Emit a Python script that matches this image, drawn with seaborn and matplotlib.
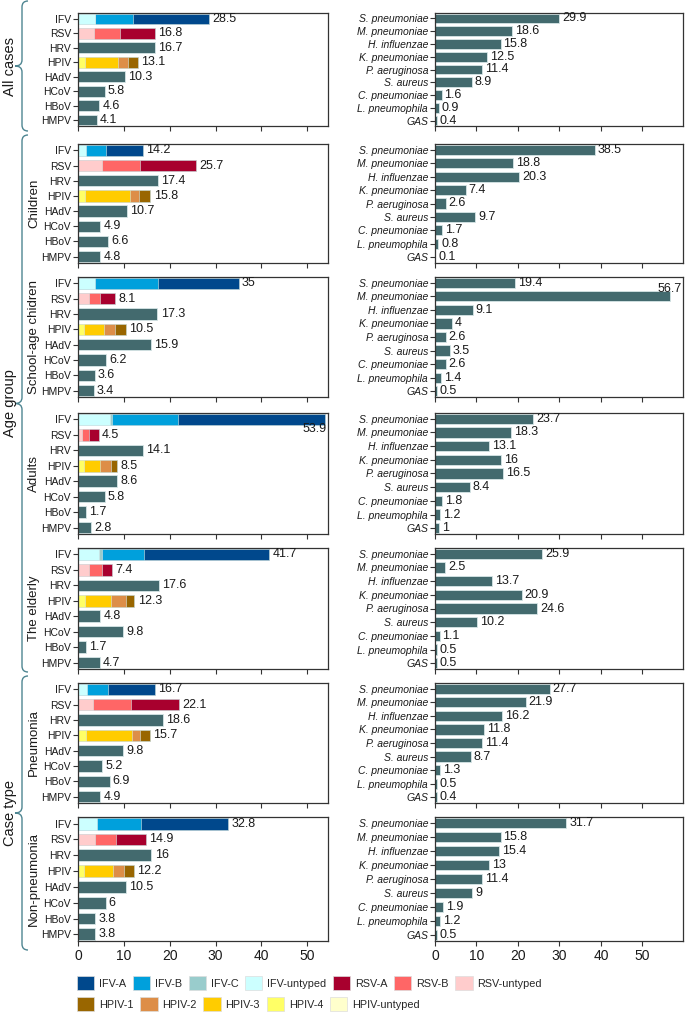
import numpy as np
import pandas as pd
import matplotlib
matplotlib.use("Agg")
import matplotlib.pyplot as plt
import seaborn as sns
from matplotlib.path import Path
from matplotlib.patches import PathPatch, Patch

# ---------------- data ----------------
groups = ["All cases", "Children", "School-age chidren", "Adults",
          "The elderly", "Pneumonia", "Non-pneumonia"]
viruses = ["IFV", "RSV", "HRV", "HPIV", "HAdV", "HCoV", "HBoV", "HMPV"]
bacteria = ["S. pneumoniae", "M. pneumoniae", "H. influenzae", "K. pneumoniae",
            "P. aeruginosa", "S. aureus", "C. pneumoniae", "L. pneumophila", "GAS"]

# virus totals per group (order of `viruses`)
virus_all      = [28.5, 16.8, 16.7, 13.1, 10.3, 5.8, 4.6, 4.1]
virus_children = [14.2, 25.7, 17.4, 15.8, 10.7, 4.9, 6.6, 4.8]
virus_school   = [35.0, 8.1, 17.3, 10.5, 15.9, 6.2, 3.6, 3.4]
virus_adults   = [53.9, 4.5, 14.1, 8.5, 8.6, 5.8, 1.7, 2.8]
virus_elderly  = [41.7, 7.4, 17.6, 12.3, 4.8, 9.8, 1.7, 4.7]
virus_pneu     = [16.7, 22.1, 18.6, 15.7, 9.8, 5.2, 6.9, 4.9]
virus_nonpneu  = [32.8, 14.9, 16.0, 12.2, 10.5, 6.0, 3.8, 3.8]

# IFV subtypes: untyped, C, B, A
ifv_subtypes = ["IFV-untyped", "IFV-C", "IFV-B", "IFV-A"]
ifv_all      = [3.6, 0.1, 8.2, 16.6]
ifv_children = [1.7, 0.0, 4.4, 8.1]
ifv_school   = [3.8, 0.0, 13.7, 17.5]
ifv_adults   = [7.0, 0.5, 14.2, 32.2]
ifv_elderly  = [4.6, 0.6, 9.1, 27.4]
ifv_pneu     = [2.0, 0.0, 4.5, 10.2]
ifv_nonpneu  = [4.1, 0.0, 9.7, 19.0]

# RSV subtypes: untyped, B, A
rsv_subtypes = ["RSV-untyped", "RSV-B", "RSV-A"]
rsv_all      = [3.5, 5.6, 7.7]
rsv_children = [5.3, 8.3, 12.1]
rsv_school   = [2.5, 2.2, 3.4]
rsv_adults   = [0.9, 1.6, 2.0]
rsv_elderly  = [2.5, 2.7, 2.2]
rsv_pneu     = [3.3, 8.2, 10.6]
rsv_nonpneu  = [3.8, 4.5, 6.6]

# HPIV subtypes: untyped, 4, 3, 2, 1
hpiv_subtypes = ["HPIV-untyped", "HPIV-4", "HPIV-3", "HPIV-2", "HPIV-1"]
hpiv_all      = [0.1, 1.4, 7.3, 2.2, 2.1]
hpiv_children = [0.0, 1.5, 9.8, 2.0, 2.5]
hpiv_school   = [0.0, 1.2, 4.5, 2.3, 2.5]
hpiv_adults   = [0.0, 1.3, 3.6, 2.3, 1.3]
hpiv_elderly  = [0.0, 1.6, 5.6, 3.2, 1.9]
hpiv_pneu     = [0.0, 1.7, 10.0, 1.8, 2.2]
hpiv_nonpneu  = [0.0, 1.4, 6.3, 2.3, 2.2]

bact_all      = [29.9, 18.6, 15.8, 12.5, 11.4, 8.9, 1.6, 0.9, 0.4]
bact_children = [38.5, 18.8, 20.3, 7.4, 2.6, 9.7, 1.7, 0.8, 0.1]
bact_school   = [19.4, 56.7, 9.1, 4.0, 2.6, 3.5, 2.6, 1.4, 0.5]
bact_adults   = [23.7, 18.3, 13.1, 16.0, 16.5, 8.4, 1.8, 1.2, 1.0]
bact_elderly  = [25.9, 2.5, 13.7, 20.9, 24.6, 10.2, 1.1, 0.5, 0.5]
bact_pneu     = [27.7, 21.9, 16.2, 11.8, 11.4, 8.7, 1.3, 0.5, 0.4]
bact_nonpneu  = [31.7, 15.8, 15.4, 13.0, 11.4, 9.0, 1.9, 1.2, 0.5]

virus_data = [virus_all, virus_children, virus_school, virus_adults,
              virus_elderly, virus_pneu, virus_nonpneu]
ifv_data = [ifv_all, ifv_children, ifv_school, ifv_adults, ifv_elderly, ifv_pneu, ifv_nonpneu]
rsv_data = [rsv_all, rsv_children, rsv_school, rsv_adults, rsv_elderly, rsv_pneu, rsv_nonpneu]
hpiv_data = [hpiv_all, hpiv_children, hpiv_school, hpiv_adults, hpiv_elderly, hpiv_pneu, hpiv_nonpneu]
bact_data = [bact_all, bact_children, bact_school, bact_adults, bact_elderly, bact_pneu, bact_nonpneu]

subtype_colors = {
    "IFV-A": "#00488C", "IFV-B": "#00A0DC", "IFV-C": "#99CCCC", "IFV-untyped": "#CCFFFF",
    "RSV-A": "#A8002E", "RSV-B": "#FF6666", "RSV-untyped": "#FFCCCC",
    "HPIV-1": "#996600", "HPIV-2": "#DD8E48", "HPIV-3": "#FFCC00",
    "HPIV-4": "#FFFF66", "HPIV-untyped": "#FFFFCC",
}
legend_row1 = ["IFV-A", "IFV-B", "IFV-C", "IFV-untyped", "RSV-A", "RSV-B", "RSV-untyped"]
legend_row2 = ["HPIV-1", "HPIV-2", "HPIV-3", "HPIV-4", "HPIV-untyped"]

BAR = "#436A6E"
EDGE = "#D6E6E6"

# ---------------- style ----------------
sns.set_style("white")
plt.rcParams["font.family"] = ["Liberation Sans", "DejaVu Sans"]
plt.rcParams["axes.edgecolor"] = "#333333"
plt.rcParams["axes.linewidth"] = 0.9

W, H = 685, 1015
fig = plt.figure(figsize=(W / 100, H / 100), dpi=100)

tops = [13, 144, 277, 413, 548, 683, 817]
bots = [126, 263, 397, 534, 669, 803, 941]
LX0, LX1 = 78, 328
RX0, RX1 = 435, 683


def add_ax(x0, x1, t, b):
    return fig.add_axes([x0 / W, 1 - b / H, (x1 - x0) / W, (b - t) / H])


def style_ax(ax, last, xmax):
    ax.set_xlim(0, xmax)
    ax.set_xticks([0, 10, 20, 30, 40, 50])
    ax.set_xlabel("")
    ax.set_ylabel("")
    ax.tick_params(axis="both", which="both", length=3.5, width=0.8, color="#333333",
                   direction="out", bottom=True, left=True, pad=1.5)
    ax.tick_params(axis="y", labelsize=7.5, labelcolor="#1a1a1a")
    ax.tick_params(axis="x", labelsize=10, labelcolor="#1a1a1a", pad=2)
    if not last:
        ax.set_xticklabels([])
    for s in ax.spines.values():
        s.set_visible(True)
        s.set_color("#333333")
        s.set_linewidth(0.9)


def add_labels(ax, cats, vals, xmax, above_when_big):
    for i, v in enumerate(vals):
        lab = f"{v:g}"
        if v + 6 > xmax:
            dy = -0.55 if above_when_big else 0.6
            ax.text(xmax - 0.4, i + dy, lab, ha="right", va="center",
                    fontsize=9, color="#1a1a1a")
        else:
            ax.text(v + 0.7, i, lab, ha="left", va="center", fontsize=9, color="#1a1a1a")


LXMAX = 54.5
RXMAX = 59.8

for g in range(7):
    last = g == 6
    # ---------- virus panel ----------
    ax = add_ax(LX0, LX1, tops[g], bots[g])
    totals = virus_data[g]
    df = pd.DataFrame({"virus": viruses, "value": totals})
    sns.barplot(data=df, x="value", y="virus", order=viruses, orient="h",
                color=BAR, saturation=1, width=0.75, edgecolor=EDGE, linewidth=0.6, ax=ax)
    # stacked subtype layers, drawn from longest (last) to shortest cumulative
    for vname, subs, vals in [("IFV", ifv_subtypes, ifv_data[g]),
                              ("RSV", rsv_subtypes, rsv_data[g]),
                              ("HPIV", hpiv_subtypes, hpiv_data[g])]:
        cum = np.cumsum(vals)
        for k in range(len(subs) - 1, -1, -1):
            if vals[k] <= 0:
                continue
            sdf = pd.DataFrame({"virus": [vname], "value": [cum[k]]})
            sns.barplot(data=sdf, x="value", y="virus", order=viruses, orient="h",
                        color=subtype_colors[subs[k]], saturation=1, width=0.75,
                        edgecolor=EDGE, linewidth=0.4, ax=ax)
    style_ax(ax, last, LXMAX)
    ax.set_ylim(len(viruses) - 1 + 0.42, -0.42)
    add_labels(ax, viruses, totals, LXMAX, above_when_big=False)

    # ---------- bacteria panel ----------
    axr = add_ax(RX0, RX1, tops[g], bots[g])
    bvals = bact_data[g]
    bdf = pd.DataFrame({"bact": bacteria, "value": bvals})
    sns.barplot(data=bdf, x="value", y="bact", order=bacteria, orient="h",
                color=BAR, saturation=1, width=0.75, edgecolor=EDGE, linewidth=0.6, ax=axr)
    style_ax(axr, last, RXMAX)
    axr.set_ylim(len(bacteria) - 1 + 0.42, -0.42)
    for t in axr.get_yticklabels():
        t.set_fontstyle("italic")
    add_labels(axr, bacteria, bvals, RXMAX, above_when_big=True)

    # row label
    if g > 0:
        yc = (tops[g] + bots[g]) / 2
        fig.text(34 / W, 1 - yc / H, groups[g], rotation=90, ha="center", va="center",
                 fontsize=9.5, color="#1a1a1a")

# ---------------- braces ----------------
BR = "#4E8591"


def brace(y0, y1, xtip=15, xline=22, xend=28, r=6):
    ym = (y0 + y1) / 2
    pts = [(xend, y0), (xline, y0), (xline, y0 + r),
           (xline, ym - r), (xline, ym), (xtip, ym),
           (xline, ym), (xline, ym + r),
           (xline, y1 - r), (xline, y1), (xend, y1)]
    codes = [Path.MOVETO, Path.CURVE3, Path.CURVE3,
             Path.LINETO, Path.CURVE3, Path.CURVE3,
             Path.CURVE3, Path.CURVE3,
             Path.LINETO, Path.CURVE3, Path.CURVE3]
    pts = [(x / W, 1 - y / H) for x, y in pts]
    fig.patches.append(PathPatch(Path(pts, codes), transform=fig.transFigure,
                                 fill=False, edgecolor=BR, lw=1.0))


brace(1, 131)
brace(135, 672)
brace(676, 950)
for label, y0, y1 in [("All cases", 1, 131), ("Age group", 135, 672), ("Case type", 676, 950)]:
    fig.text(10 / W, 1 - ((y0 + y1) / 2) / H, label, rotation=90, ha="center", va="center",
             fontsize=10.5, color="#1a1a1a")

# ---------------- legend ----------------
h1 = [Patch(facecolor=subtype_colors[k], edgecolor="#dddddd", linewidth=0.5) for k in legend_row1]
h2 = [Patch(facecolor=subtype_colors[k], edgecolor="#dddddd", linewidth=0.5) for k in legend_row2]
common = dict(frameon=False, fontsize=7.8, handlelength=1.6, handleheight=1.6,
              handletextpad=0.45, columnspacing=0.6, borderaxespad=0, borderpad=0)
fig.legend(h1, legend_row1, ncol=7, loc="center left",
           bbox_to_anchor=(77 / W, 1 - 983 / H), **common)
fig.legend(h2, legend_row2, ncol=5, loc="center left",
           bbox_to_anchor=(77 / W, 1 - 1004 / H), **common)

fig.savefig("out.png", dpi=100)
